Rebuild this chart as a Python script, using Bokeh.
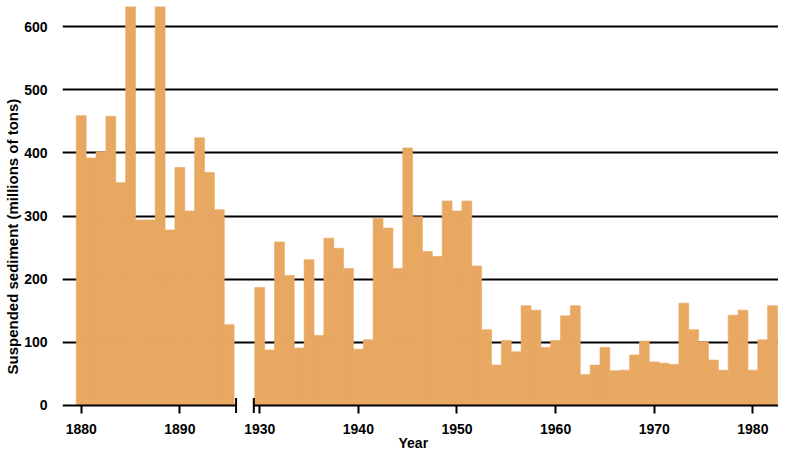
from bokeh.plotting import figure
from bokeh.models import FixedTicker, Range1d, ColumnDataSource, Title
from bokeh.embed import file_html
from bokeh.resources import INLINE

# ---- data (millions of tons of suspended sediment per year) ----
years_early = list(range(1880, 1896))
sediment_early = [459, 392, 402, 458, 353, 640, 294, 294, 640, 278,
                  377, 308, 424, 369, 310, 128]

years_late = list(range(1930, 1983))
sediment_late = [187, 88, 259, 206, 91, 231, 111, 265, 249, 217,   # 1930s
                 89, 104, 296, 281, 217, 408, 299, 244, 236, 324,  # 1940s
                 308, 324, 221, 120, 64, 103, 85, 158, 151, 92,    # 1950s
                 103, 142, 158, 49, 64, 92, 55, 56, 80, 102,       # 1960s
                 69, 67, 65, 162, 120, 101, 72, 56, 143, 151,      # 1970s
                 56, 104, 158]                                     # 1980s

tick_years_early = [1880, 1890]
tick_years_late = [1930, 1940, 1950, 1960, 1970, 1980]
y_ticks = [0, 100, 200, 300, 400, 500, 600]

# ---- broken-axis mapping (10 units per year) ----
UNIT = 10
LATE_OFFSET = 181          # position of 1930 on the broken axis


def pos_early(y):
    return (y - years_early[0]) * UNIT


def pos_late(y):
    return (y - years_late[0]) * UNIT + LATE_OFFSET


xs = [pos_early(y) for y in years_early] + [pos_late(y) for y in years_late]
tops = sediment_early + sediment_late
src = ColumnDataSource(data=dict(x=xs, top=tops,
                                 year=years_early + years_late))

x_start, x_end = -19, 707
p = figure(width=778, height=450, output_backend="svg", toolbar_location=None,
           x_range=Range1d(x_start, x_end), y_range=Range1d(-12.7, 632),
           min_border_left=55, min_border_right=0, min_border_top=6,
           min_border_bottom=0, background_fill_color="white",
           border_fill_color="white")
p.outline_line_color = None

FONT = "Liberation Sans"
FS = "14px"
BAR = "#E8A862"

p.vbar(x="x", top="top", bottom=0, width=UNIT, source=src,
       fill_color=BAR, line_color=BAR, line_width=0.6)

# broken x-axis line with break markers
left_end = pos_early(years_early[-1]) + 7
right_start = LATE_OFFSET - 6
p.segment(x0=[x_start, right_start], x1=[left_end, x_end], y0=[0, 0], y1=[0, 0],
          line_color="black", line_width=2)
p.segment(x0=[left_end, right_start], x1=[left_end, right_start],
          y0=[-12, -12], y1=[12, 12], line_color="black", line_width=2)

# grid
p.xgrid.visible = False
p.ygrid.ticker = FixedTicker(ticks=[t for t in y_ticks if t > 0])
p.ygrid.grid_line_color = "black"
p.ygrid.grid_line_width = 2

# y axis
p.yaxis.ticker = FixedTicker(ticks=y_ticks)
p.yaxis.axis_line_color = None
p.yaxis.major_tick_line_color = None
p.yaxis.minor_tick_line_color = None
p.yaxis.major_label_standoff = 9
p.yaxis.major_label_text_font = FONT
p.yaxis.major_label_text_font_size = FS
p.yaxis.major_label_text_font_style = "bold"
p.yaxis.major_label_text_color = "black"

# x axis
tick_pos = [pos_early(y) for y in tick_years_early] + [pos_late(y) for y in tick_years_late]
tick_lab = [str(y) for y in tick_years_early + tick_years_late]
p.xaxis.ticker = FixedTicker(ticks=tick_pos)
p.xaxis.major_label_overrides = {t: l for t, l in zip(tick_pos, tick_lab)}
p.xaxis.axis_line_color = None
p.xaxis.major_tick_in = 8
p.xaxis.major_tick_out = 0
p.xaxis.major_tick_line_width = 2
p.xaxis.major_tick_line_color = "black"
p.xaxis.minor_tick_line_color = None
p.xaxis.major_label_standoff = 10
p.xaxis.major_label_text_font = FONT
p.xaxis.major_label_text_font_size = FS
p.xaxis.major_label_text_font_style = "bold"
p.xaxis.major_label_text_color = "black"
p.xaxis.major_label_text_line_height = 1.0

xtitle = Title(text="Year", align="left", offset=336, vertical_align="top",
               text_font=FONT, text_font_size=FS, text_font_style="bold",
               text_color="black", standoff=-4)
p.add_layout(xtitle, "below")

ytitle = Title(text="Suspended sediment (millions of tons)", align="left",
               offset=39, text_font=FONT, text_font_size="15px",
               text_font_style="bold", text_color="black", standoff=2)
p.add_layout(ytitle, "left")

open("out.html", "w").write(file_html(p, INLINE))
